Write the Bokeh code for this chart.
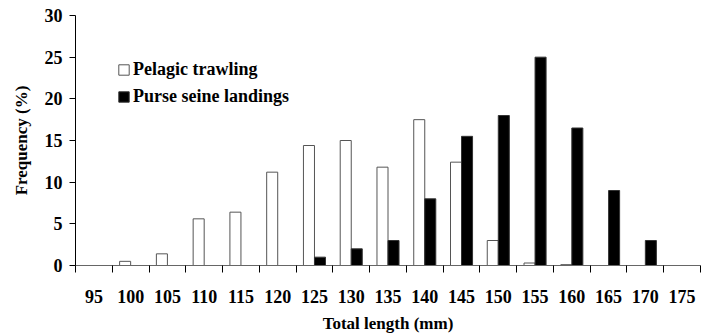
from bokeh.plotting import figure
from bokeh.models import (ColumnDataSource, Range1d, LinearAxis, FixedTicker,
                          Legend, LegendItem)
from bokeh.embed import file_html
from bokeh.resources import INLINE

lengths = [95, 100, 105, 110, 115, 120, 125, 130, 135, 140, 145, 150, 155, 160, 165, 170, 175]
pelagic = [0, 0.5, 1.4, 5.6, 6.4, 11.2, 14.4, 15.0, 11.8, 17.5, 12.4, 3.0, 0.3, 0.1, 0, 0, 0]
purse = [0, 0, 0, 0, 0, 0, 1.0, 2.0, 3.0, 8.0, 15.5, 18.0, 25.0, 16.5, 9.0, 3.0, 0]
y_ticks = [0, 5, 10, 15, 20, 25, 30]

FONT = "Liberation Serif"
half = 2.5
bw = 1.5

src = ColumnDataSource(dict(
    xw=[l - bw / 2 for l in lengths],
    xb=[l + bw / 2 for l in lengths],
    pel=pelagic, pur=purse))

p = figure(frame_width=625, frame_height=250, width=701, height=335,
           output_backend="svg", toolbar_location=None,
           x_range=Range1d(lengths[0] - half, lengths[-1] + half),
           y_range=Range1d(0, 30),
           min_border_left=75, min_border_right=1, min_border_top=15, min_border_bottom=70,
           x_axis_type=None, y_axis_type=None)
p.outline_line_color = None
p.xgrid.visible = False
p.ygrid.visible = False
p.background_fill_color = "white"

r1 = p.vbar(x="xw", top="pel", width=bw, source=src, fill_color="white",
            line_color="#555555", line_width=1)
r2 = p.vbar(x="xb", top="pur", width=bw, source=src, fill_color="black",
            line_color="#333333", line_width=1)

boundaries = [l - half for l in lengths] + [lengths[-1] + half]
xaxis = LinearAxis(ticker=FixedTicker(ticks=lengths, minor_ticks=boundaries),
                   axis_label="Total length (mm)")
xaxis.major_tick_out = 0
xaxis.major_tick_in = 0
xaxis.minor_tick_out = 7
xaxis.minor_tick_in = 0
xaxis.minor_tick_line_color = "black"
xaxis.axis_line_color = "#666666"
xaxis.major_label_standoff = 17
xaxis.major_label_text_font = FONT
xaxis.major_label_text_font_style = "bold"
xaxis.major_label_text_font_size = "18px"
xaxis.major_label_text_color = "black"
xaxis.axis_label_text_font = FONT
xaxis.axis_label_text_font_style = "bold"
xaxis.axis_label_text_font_size = "17px"
xaxis.axis_label_text_color = "black"
xaxis.axis_label_standoff = 8
p.add_layout(xaxis, "below")

yaxis = LinearAxis(ticker=FixedTicker(ticks=y_ticks, minor_ticks=[]),
                   axis_label="Frequency (%)")
yaxis.major_tick_out = 6
yaxis.major_tick_in = 0
yaxis.axis_line_color = "black"
yaxis.major_tick_line_color = "black"
yaxis.major_label_standoff = 7
yaxis.major_label_text_font = FONT
yaxis.major_label_text_font_style = "bold"
yaxis.major_label_text_font_size = "18px"
yaxis.major_label_text_color = "black"
yaxis.axis_label_text_font = FONT
yaxis.axis_label_text_font_style = "bold"
yaxis.axis_label_text_font_size = "17px"
yaxis.axis_label_text_color = "black"
yaxis.axis_label_standoff = 11
p.add_layout(yaxis, "left")

legend = Legend(items=[LegendItem(label="Pelagic trawling", renderers=[r1]),
                       LegendItem(label="Purse seine landings", renderers=[r2])],
                location=(42, 158))
legend.glyph_width = 13
legend.glyph_height = 13
legend.label_height = 20
legend.spacing = 6
legend.padding = 0
legend.margin = 0
legend.label_standoff = 3
legend.border_line_color = None
legend.background_fill_alpha = 0
legend.label_text_font = FONT
legend.label_text_font_style = "bold"
legend.label_text_font_size = "18px"
legend.label_text_color = "black"
p.add_layout(legend, "center")

open("out.html", "w").write(file_html(p, INLINE))
